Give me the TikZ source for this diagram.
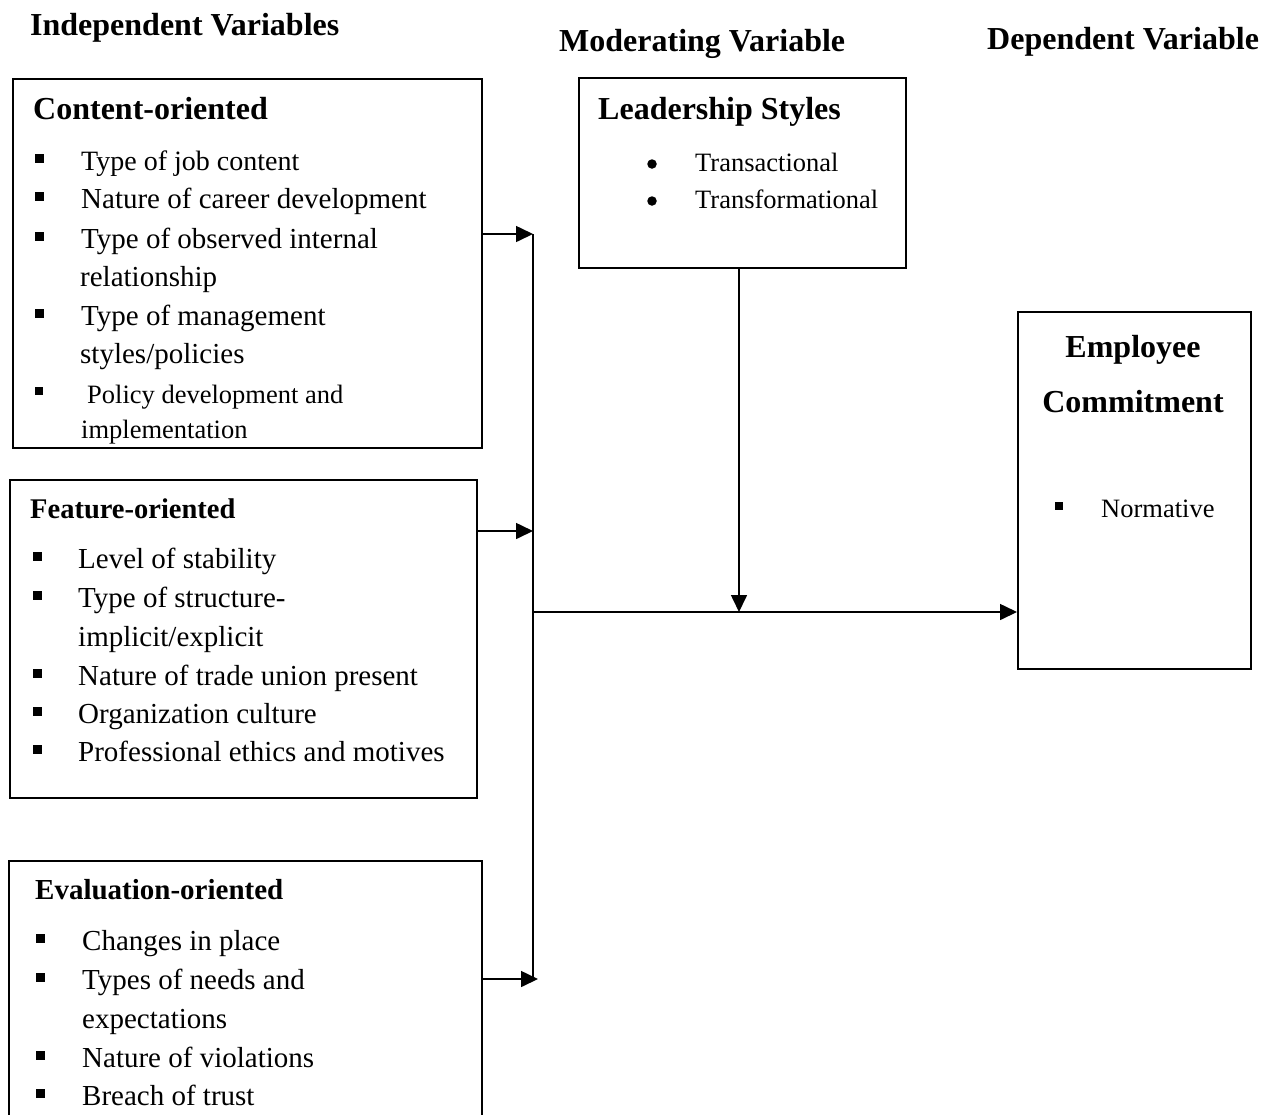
\documentclass[tikz,border=0pt]{standalone}
\usepackage{fontspec}
\setmainfont{Liberation Serif}
\usetikzlibrary{arrows.meta}
\begin{document}
\begin{tikzpicture}[x=1pt,y=-1pt,
  box/.style={draw, line width=1.6pt, inner sep=0pt, anchor=north west},
  hdr/.style={font=\fontsize{32}{38}\bfseries\selectfont, anchor=base west, inner sep=0pt, yshift=-2pt},
  hdrs/.style={hdr, font=\fontsize{28.5}{34}\bfseries\selectfont},
  txt/.style={font=\fontsize{29}{35}\selectfont, anchor=base west, inner sep=0pt, yshift=-2pt},
  sml/.style={txt, font=\fontsize{26.5}{32}\selectfont},
  sq/.style={fill, minimum size=9pt, inner sep=0pt},
  dot/.style={circle, fill, minimum size=9.5pt, inner sep=0pt},
  conn/.style={line width=1.6pt},
  arr/.style={line width=1.6pt, -{Triangle[length=17pt,width=16pt]}}]
\clip (0,0) rectangle (1281,1114);

% headers
\node[hdr] (hInd) at (30,33) {Independent Variables};
\node[hdr] (hMod) at (559,49) {Moderating Variable};
\node[hdr] (hDep) at (987,47) {Dependent Variable};

% boxes
\node[box, minimum width=469pt, minimum height=369pt] (content) at (12,78) {};
\node[box, minimum width=467pt, minimum height=318pt] (feature) at (9,479) {};
\node[box, minimum width=473pt, minimum height=300pt] (evalbox) at (8,860) {};
\node[box, minimum width=327pt, minimum height=190pt] (lead) at (578,77) {};
\node[box, minimum width=233pt, minimum height=357pt] (emp) at (1017,311) {};

% content-oriented
\node[hdr] (cT) at (33,117) {Content-oriented};
\node[sq] (cb1) at (39,158) {};
\node[sq] (cb2) at (39,196) {};
\node[sq] (cb3) at (39,236) {};
\node[sq] (cb4) at (39,313) {};
\node[sq, minimum size=8pt] (cb5) at (39,391) {};
\node[txt, font=\fontsize{28}{34}\selectfont] (c1) at (81,168) {Type of job content};
\node[txt] (c2) at (81,206) {Nature of career development};
\node[txt] (c3) at (81,246) {Type of observed internal};
\node[txt] (c3b) at (80,284) {relationship};
\node[txt] (c4) at (81,323) {Type of management};
\node[txt] (c4b) at (80,361) {styles/policies};
\node[sml] (c5) at (87,401) {Policy development and};
\node[sml] (c5b) at (81,436) {implementation};

% feature-oriented
\node[hdrs] (fT) at (30,516) {Feature-oriented};
\node[sq] (fb1) at (37,556) {};
\node[sq] (fb2) at (37,595) {};
\node[sq] (fb3) at (37,673) {};
\node[sq] (fb4) at (37,711) {};
\node[sq] (fb5) at (37,749) {};
\node[txt] (f1) at (78,566) {Level of stability};
\node[txt] (f2) at (78,605) {Type of structure-};
\node[txt] (f2b) at (78,644) {implicit/explicit};
\node[txt] (f3) at (78,683) {Nature of trade union present};
\node[txt] (f4) at (78,721) {Organization culture};
\node[txt] (f5) at (78,759) {Professional ethics and motives};

% evaluation-oriented
\node[hdr, font=\fontsize{29}{35}\bfseries\selectfont] (eT) at (35,897) {Evaluation-oriented};
\node[sq] (eb1) at (40,938) {};
\node[sq] (eb2) at (40,977) {};
\node[sq] (eb3) at (40,1055) {};
\node[sq] (eb4) at (40,1093) {};
\node[txt] (e1) at (82,948) {Changes in place};
\node[txt] (e2) at (82,987) {Types of needs and};
\node[txt] (e2b) at (82,1026) {expectations};
\node[txt] (e3) at (82,1065) {Nature of violations};
\node[txt] (e4) at (82,1103) {Breach of trust};

% leadership styles
\node[hdr] (lT) at (598,117) {Leadership Styles};
\node[dot] (ld1) at (652,164) {};
\node[dot] (ld2) at (652,201) {};
\node[sml] (l1) at (695,169) {Transactional};
\node[sml] (l2) at (695,206) {Transformational};

% employee commitment
\node[hdr, anchor=base] (emT1) at (1133,355) {Employee};
\node[hdr, anchor=base] (emT2) at (1133,410) {Commitment};
\node[sq, minimum size=8pt] (emb) at (1059,506) {};
\node[sml] (em1) at (1101,515) {Normative};

% connectors
\coordinate (j1) at (533,234);
\coordinate (j2) at (533,531);
\coordinate (j3) at (533,979);
\coordinate (j3t) at (538,979);
\coordinate (jm) at (533,612);
\coordinate (jl) at (739,612);

\draw[conn] (j1) -- (j3);
\draw[arr] (content.east |- j1) -- (j1);
\draw[arr] (feature.east |- j2) -- (j2);
\draw[arr] (evalbox.east |- j3t) -- (j3t);
\draw[arr] (jm) -- (emp.west |- jm);
\draw[arr] (lead.south -| jl) -- (jl);
\end{tikzpicture}
\end{document}
